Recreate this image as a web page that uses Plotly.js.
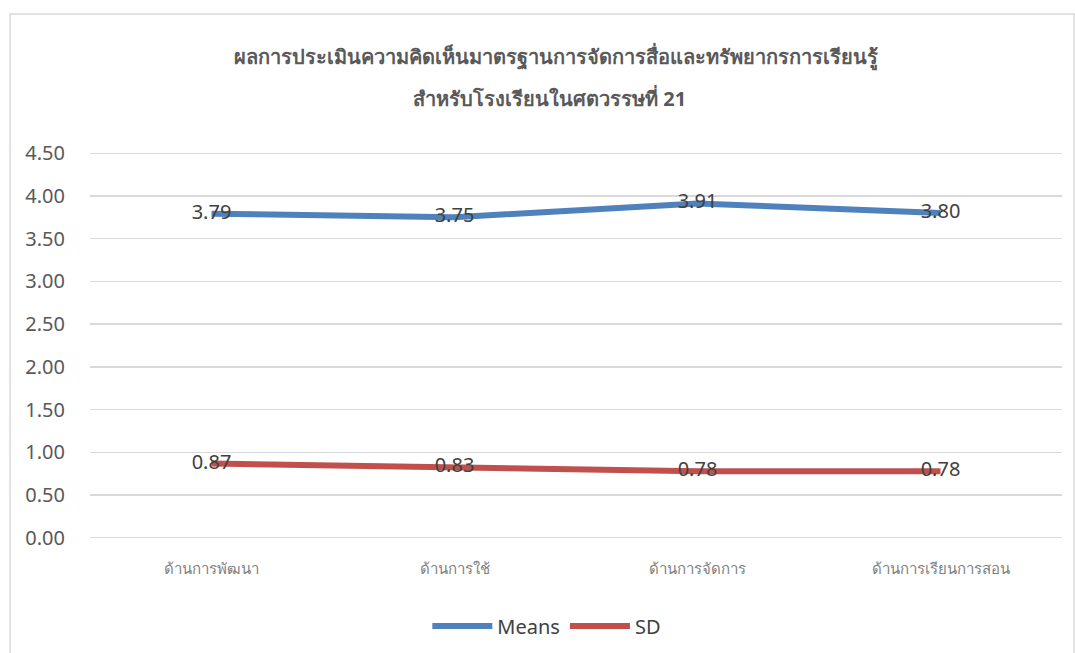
<!DOCTYPE html>
<html>
<head>
<meta charset="utf-8">
<script src="https://cdn.plot.ly/plotly-3.0.1.min.js"></script>
<style>
  html, body { margin: 0; padding: 0; background: #fff; }
  #chart { width: 1075px; height: 653px; }
</style>
</head>
<body>
<div id="chart"></div>
<script>
const categories = ["ด้านการพัฒนา", "ด้านการใช้", "ด้านการจัดการ", "ด้านการเรียนการสอน"];
const meansValues = [3.79, 3.75, 3.91, 3.80];
const sdValues = [0.87, 0.83, 0.78, 0.78];
const yTickValues = [0, 0.5, 1, 1.5, 2, 2.5, 3, 3.5, 4, 4.5];
const titleLine1 = "ผลการประเมินความคิดเห็นมาตรฐานการจัดการสื่อและทรัพยากรการเรียนรู้";
const titleLine2 = "สำหรับโรงเรียนในศตวรรษที่ 21";

const fontFam = "Noto Sans, Open Sans, sans-serif";

function series(name, vals, color) {
  return {
    type: 'scatter',
    mode: 'lines+text',
    name: name,
    x: categories,
    y: vals,
    text: vals.map(v => v.toFixed(2)),
    textposition: 'middle center',
    textfont: { family: fontFam, size: 20, color: '#404040' },
    line: { color: color, width: 6 },
    cliponaxis: false,
    hoverinfo: 'skip'
  };
}

const data = [
  series('Means', meansValues, '#4f81bd'),
  series('SD', sdValues, '#c0504d')
];

const yMin = yTickValues[0];
const yMax = yTickValues[yTickValues.length - 1];

const layout = {
  width: 1075,
  height: 653,
  paper_bgcolor: '#ffffff',
  plot_bgcolor: '#ffffff',
  margin: { l: 90, r: 13, t: 153, b: 115, autoexpand: false },
  showlegend: true,
  legend: {
    orientation: 'h',
    x: 0.47, xanchor: 'center',
    yref: 'container',
    y: 1 - 626 / 653, yanchor: 'middle',
    font: { family: fontFam, size: 20, color: '#404040' },
    itemwidth: 60
  },
  xaxis: {
    type: 'category',
    range: [-0.5, 3.5],
    showgrid: false,
    zeroline: false,
    showline: false,
    automargin: false,
    ticks: '',
    ticklabelstandoff: 20,
    tickfont: { family: fontFam, size: 15, color: '#7f7f7f' },
    fixedrange: true
  },
  yaxis: {
    range: [yMin, yMax],
    tickvals: yTickValues,
    ticktext: yTickValues.map(v => v.toFixed(2)),
    showgrid: true,
    gridcolor: '#d9d9d9',
    gridwidth: 1.5,
    zeroline: false,
    showline: false,
    automargin: false,
    ticks: '',
    ticklabelstandoff: 24,
    tickfont: { family: fontFam, size: 20, color: '#595959' },
    fixedrange: true
  },
  annotations: [
    { text: '<b>' + titleLine1 + '</b>', xref: 'paper', yref: 'paper', x: (556 - 90) / 972, xanchor: 'center',
      y: 1 + (153 - 57) / 385, yanchor: 'middle', showarrow: false,
      font: { family: fontFam, size: 20, color: '#595959' } },
    { text: '<b>' + titleLine2 + '</b>', xref: 'paper', yref: 'paper', x: (549 - 90) / 972, xanchor: 'center',
      y: 1 + (153 - 98) / 385, yanchor: 'middle', showarrow: false,
      font: { family: fontFam, size: 20, color: '#595959' } }
  ],
  shapes: [
    { type: 'rect', xref: 'paper', yref: 'paper',
      x0: -80 / 972, x1: 1 + 12 / 972, y0: -120 / 385, y1: 1 + 139 / 385,
      line: { color: '#d9d9d9', width: 1.5 }, fillcolor: 'rgba(0,0,0,0)', layer: 'below' },
    { type: 'line', xref: 'paper', yref: 'y', x0: 0, x1: 1, y0: yMin, y1: yMin,
      line: { color: '#d9d9d9', width: 2 }, layer: 'below' },
    { type: 'line', xref: 'paper', yref: 'y', x0: 0, x1: 1, y0: yMax, y1: yMax,
      line: { color: '#d9d9d9', width: 2 }, layer: 'below' }
  ]
};

Plotly.newPlot('chart', data, layout, { displayModeBar: false, staticPlot: true });
</script>
</body>
</html>
